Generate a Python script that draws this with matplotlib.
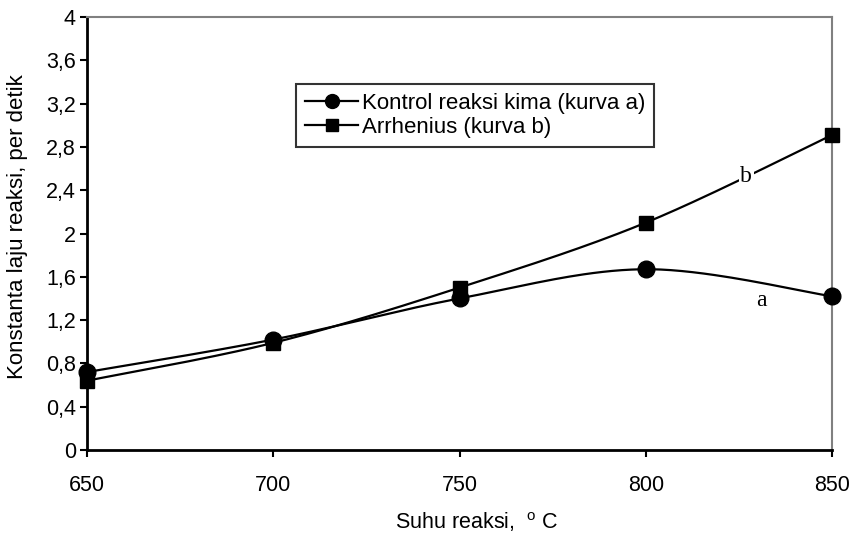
import numpy as np
import matplotlib
matplotlib.use("Agg")
import matplotlib.pyplot as plt
from matplotlib.ticker import FuncFormatter

plt.rcParams['font.family'] = ['Liberation Sans', 'DejaVu Sans']
plt.rcParams['mathtext.fontset'] = 'custom'
plt.rcParams['mathtext.rm'] = 'Liberation Sans'

# data
suhu = [650, 700, 750, 800, 850]
kurva_a = [0.72, 1.02, 1.40, 1.67, 1.42]   # Kontrol reaksi kima
kurva_b = [0.64, 0.99, 1.50, 2.10, 2.91]   # Arrhenius
y_ticks = [0, 0.4, 0.8, 1.2, 1.6, 2.0, 2.4, 2.8, 3.2, 3.6, 4.0]


def halus(x, y, n=40):
    # catmull-rom like the excel "smoothed line"
    p = np.column_stack([x, y]).astype(float)
    p = np.vstack([p[0], p, p[-1]])
    out = []
    t = np.linspace(0, 1, n)[:, None]
    for i in range(1, len(p) - 2):
        p0, p1, p2, p3 = p[i - 1], p[i], p[i + 1], p[i + 2]
        seg = 0.5 * ((2 * p1) + (-p0 + p2) * t + (2 * p0 - 5 * p1 + 4 * p2 - p3) * t ** 2
                     + (-p0 + 3 * p1 - 3 * p2 + p3) * t ** 3)
        out.append(seg)
    out = np.vstack(out)
    return out[:, 0], out[:, 1]


fig = plt.figure(figsize=(8.51, 5.36), dpi=100)
ax = fig.add_axes([87 / 851, 1 - 450 / 536, (832 - 87) / 851, (450 - 17) / 536])

xa, ya = halus(suhu, kurva_a)
xb, yb = halus(suhu, kurva_b)
ax.plot(xa, ya, color='black', lw=1.6, zorder=3)
ax.plot(xb, yb, color='black', lw=1.6, zorder=3)
ax.plot(suhu, kurva_a, 'o', color='black', ms=12, zorder=4, clip_on=False)
ax.plot(suhu, kurva_b, 's', color='black', ms=10, zorder=4, clip_on=False)

# legend handles
ax.plot([], [], '-o', color='black', lw=1.6, ms=10, label='Kontrol reaksi kima (kurva a)')
ax.plot([], [], '-s', color='black', lw=1.6, ms=9, label='Arrhenius (kurva b)')
leg = ax.legend(loc='upper left', bbox_to_anchor=(296 / 851, 1 - 84 / 536),
                bbox_transform=fig.transFigure, fontsize=16, frameon=True,
                fancybox=False, edgecolor='black', handlelength=2.4,
                handletextpad=0.15, borderpad=0.4, labelspacing=0.15,
                borderaxespad=0)
leg.get_frame().set_linewidth(1.5)

ax.text(827, 2.53, 'b', family='Liberation Serif', fontsize=17, ha='center', va='center',
        zorder=3.5, bbox=dict(facecolor='white', edgecolor='none', pad=1))
ax.text(831, 1.38, 'a', family='Liberation Serif', fontsize=17, ha='center', va='center',
        zorder=3.5, bbox=dict(facecolor='white', edgecolor='none', pad=1))

ax.set_xlim(650, 850)
ax.set_ylim(0, 4)
ax.set_xticks(suhu)
ax.set_yticks(y_ticks)
ax.yaxis.set_major_formatter(FuncFormatter(lambda v, p: ('%g' % round(v, 1)).replace('.', ',')))
ax.tick_params(direction='out', length=5, width=1.5, labelsize=15.5)
ax.tick_params(axis='x', pad=13)
ax.tick_params(axis='y', pad=3)

for s in ['left', 'bottom']:
    ax.spines[s].set_linewidth(2)
    ax.spines[s].set_color('black')
for s in ['top', 'right']:
    ax.spines[s].set_linewidth(1.5)
    ax.spines[s].set_color('#808080')

fig.text(477 / 851, 1 - 522 / 536, 'Suhu reaksi,  $^{\\mathrm{o}}$ C', fontsize=15.5,
         ha='center', va='center')
fig.text(18 / 851, 1 - 227 / 536, 'Konstanta laju reaksi, per detik', fontsize=16,
         rotation=90, ha='center', va='center')

fig.savefig('out.png', dpi=100)
